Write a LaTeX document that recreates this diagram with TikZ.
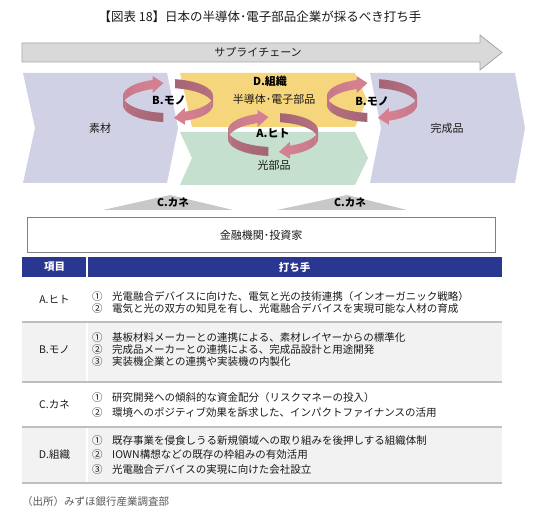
\documentclass[tikz,border=0pt]{standalone}
\usepackage{fontspec}
\setmainfont{Noto Sans CJK JP}
\definecolor{arrgray}{RGB}{217,217,217}
\definecolor{arredge}{RGB}{166,166,166}
\definecolor{lav}{RGB}{209,209,230}
\definecolor{yel}{RGB}{246,214,124}
\definecolor{grn}{RGB}{197,224,206}
\definecolor{riblight}{RGB}{212,128,145}
\definecolor{ribdark}{RGB}{164,102,118}
\definecolor{navy}{RGB}{41,55,145}
\definecolor{rowgray}{RGB}{242,242,242}
\definecolor{linegray}{RGB}{191,191,191}
\definecolor{tgray}{RGB}{200,200,200}
\definecolor{boxedge}{RGB}{128,128,128}
\definecolor{foot}{RGB}{89,89,89}
\definecolor{ink}{RGB}{26,26,26}
\newcommand\myribbon[4]{%
 \foreach \ri in {0,...,23}{%
   \pgfmathsetmacro\rA{#3+(#4-#3)*\ri/24}%
   \pgfmathsetmacro\rB{#3+(#4-#3)*(\ri+1.2)/24}%
   \pgfmathtruncatemacro\rP{100-100*\ri/23}%
   \colorlet{segc}{ribdark!\rP!riblight}%
   \fill[segc] ({#1+45*cos(\rA)},{#2+17*sin(\rA)}) arc[start angle=\rA, end angle=\rB, x radius=45, y radius=17] -- ++(0,9) arc[start angle=\rB, end angle=\rA, x radius=45, y radius=17] -- cycle;
 }%
 \pgfmathsetmacro\rMx{#1+45*cos(#4)}%
 \pgfmathsetmacro\rMy{#2+17*sin(#4)+4.5}%
 \pgfmathsetmacro\rTx{-45*sin(#4)}%
 \pgfmathsetmacro\rTy{17*cos(#4)}%
 \pgfmathsetmacro\rTn{sqrt(\rTx*\rTx+\rTy*\rTy)}%
 \fill[riblight] (\rMx,\rMy-8.5) -- (\rMx,\rMy+8.5) -- ({\rMx+11*\rTx/\rTn},{\rMy+11*\rTy/\rTn}) -- cycle;
}
\newcommand\itm[2]{\makebox[20pt][l]{#1}#2}
\begin{document}
\begin{tikzpicture}[x=1pt,y=-1pt,
  txt/.style={inner sep=0pt, text=ink, font=\fontsize{10.5pt}{12pt}\selectfont},
  bigtxt/.style={inner sep=0pt, text=ink, font=\fontsize{11pt}{13pt}\selectfont},
  boldtxt/.style={inner sep=0pt, text=black, font=\fontsize{11pt}{13pt}\selectfont\bfseries},
  item/.style={txt, anchor=west},
  hdr/.style={inner sep=0pt, text=white, font=\fontsize{10.5pt}{12pt}\selectfont\bfseries}]
\useasboundingbox (0,0) rectangle (541,521);
\fill[white] (0,0) rectangle (541,521);
% title
\node[inner sep=0pt, text=ink, font=\fontsize{12.5pt}{14pt}\selectfont] (title) at (260,17) {【図表 18】日本の半導体･電子部品企業が採るべき打ち手};
% supply chain arrow
\draw[fill=arrgray, draw=arredge, line width=0.8] (22,43) -- (480,43) -- (480,35) -- (502,52.5) -- (480,70) -- (480,62) -- (22,62) -- cycle;
\node[bigtxt] (sc) at (258,52.5) {サプライチェーン};
% chevrons
\fill[lav] (23,73) -- (167,73) -- (178,128) -- (167,183) -- (23,183) -- (35,128) -- cycle;
\fill[yel] (180,73) -- (355,73) -- (367,100) -- (355,127) -- (192,127) -- cycle;
\fill[grn] (180,132) -- (355,132) -- (368,158) -- (355,185) -- (180,185) -- (192,158) -- cycle;
\fill[lav] (370,73) -- (515,73) -- (525,128) -- (515,183) -- (370,183) -- (381,128) -- cycle;
\node[bigtxt] (sozai) at (100,128) {素材};
\node[bigtxt] (kansei) at (447,128) {完成品};
\node[bigtxt] (handotai) at (274,99) {半導体･電子部品};
\node[bigtxt] (hikari) at (274,165) {光部品};
% cycle arrows
\myribbon{168}{96}{96}{250}
\myribbon{168}{96}{279}{428}
\myribbon{372}{96}{96}{250}
\myribbon{372}{96}{279}{428}
\myribbon{273}{130}{96}{250}
\myribbon{273}{130}{279}{428}
\node[boldtxt] (soshiki) at (270,81) {D.組織};
\node[boldtxt] (hito) at (273,133) {A.ヒト};
\node[boldtxt] (mono1) at (169,100) {B.モノ};
\node[boldtxt] (mono2) at (372,101) {B.モノ};
% money triangles
\fill[tgray] (103,210) -- (170,195) -- (233,210) -- cycle;
\fill[tgray] (277,210) -- (347,195) -- (407,210) -- cycle;
\node[boldtxt, font=\fontsize{10.5pt}{12pt}\selectfont\bfseries] (kane1) at (173,203) {C.カネ};
\node[boldtxt, font=\fontsize{10.5pt}{12pt}\selectfont\bfseries] (kane2) at (350,203) {C.カネ};
% finance box
\draw[boxedge, line width=0.9] (27,217) rectangle (495,252);
\node[bigtxt] (fin) at (261,235) {金融機関･投資家};
% table
\fill[navy] (22,257) rectangle (502,277);
\draw[white, line width=1.2] (87,257) -- (87,277);
\node[hdr] (h1) at (54.5,267) {項目};
\node[hdr] (h2) at (294.5,267) {打ち手};
\fill[rowgray] (22,322) rectangle (502,382);
\fill[rowgray] (22,427) rectangle (502,483);
\draw[white, line width=1.2] (87,322) -- (87,382);
\draw[white, line width=1.2] (87,427) -- (87,483);
\foreach \yy in {322,382,427,483}{\draw[linegray, line width=1.5] (22,\yy) -- (502,\yy);}
% row A
\node[txt] (la) at (54.5,300) {A.ヒト};
\node[item] (a1) at (92,297) {\itm{①}{光電融合デバイスに向けた、電気と光の技術連携（インオーガニック戦略）}};
\node[item] (a2) at (92,308.5) {\itm{②}{電気と光の双方の知見を有し、光電融合デバイスを実現可能な人材の育成}};
% row B
\node[txt] (lb) at (54.5,350) {B.モノ};
\node[item] (b1) at (92,338) {\itm{①}{基板材料メーカーとの連携による、素材レイヤーからの標準化}};
\node[item] (b2) at (92,350) {\itm{②}{完成品メーカーとの連携による、完成品設計と用途開発}};
\node[item] (b3) at (92,362) {\itm{③}{実装機企業との連携や実装機の内製化}};
% row C
\node[txt] (lc) at (54.5,405) {C.カネ};
\node[item] (c1) at (92,398) {\itm{①}{研究開発への傾斜的な資金配分（リスクマネーの投入）}};
\node[item] (c2) at (92,412) {\itm{②}{環境へのポジティブ効果を訴求した、インパクトファイナンスの活用}};
% row D
\node[txt] (ld) at (54.5,455) {D.組織};
\node[item] (d1) at (92,440.5) {\itm{①}{既存事業を侵食しうる新規領域への取り組みを後押しする組織体制}};
\node[item] (d2) at (92,455) {\itm{②}{IOWN構想などの既存の枠組みの有効活用}};
\node[item] (d3) at (92,469.5) {\itm{③}{光電融合デバイスの実現に向けた会社設立}};
% footer
\node[inner sep=0pt, anchor=west, text=foot, font=\fontsize{10.5pt}{12pt}\selectfont] (src) at (22,502) {（出所）みずほ銀行産業調査部};
\end{tikzpicture}
\end{document}
